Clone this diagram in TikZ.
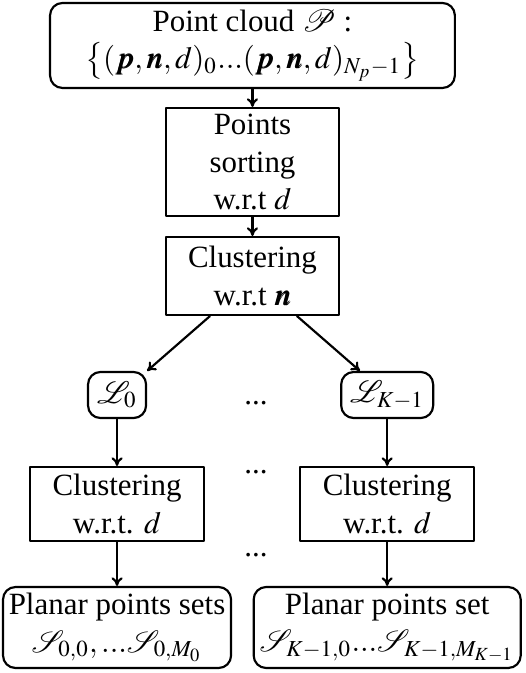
\documentclass[tikz,border=0pt]{standalone}
\usepackage{mathptmx}
\usepackage{amsmath}
\usepackage{bm}
\usepackage{mathrsfs}
\usepackage{fontspec}
\setmainfont{Liberation Serif}
\usetikzlibrary{arrows.meta}
\begin{document}
\begin{tikzpicture}[line join=round, line cap=round, >={To[length=2.8pt,width=3.6pt]}, line width=0.7pt,
		sbox/.style={draw, align=center, inner sep=1pt},
		rbox/.style={sbox, rounded corners=4pt}]
	\useasboundingbox (0,0) rectangle (5.977,7.648);
	% upper chain
	\node[rbox, minimum width=4.6cm, minimum height=0.966cm] (cloud) at (2.869,7.131) {Point cloud $\mathscr{P}$ :\\ $\big\{(\bm{p},\bm{n},d)_0...(\bm{p},\bm{n},d)_{N_p-1}\big\}$};
	\node[sbox, minimum width=1.966cm, minimum height=1.227cm] (sort) at (2.869,5.807) {Points\\ sorting\\ w.r.t $d$};
	\node[sbox, minimum width=1.966cm, minimum height=0.886cm] (clustn) at (2.869,4.511) {Clustering\\ w.r.t $\bm{n}$};
	% two columns
	\node[rbox, minimum width=0.659cm, minimum height=0.523cm] (lz) at (1.330,3.159) {$\mathscr{L}_0$};
	\node[rbox, minimum width=1.045cm, minimum height=0.523cm] (lk) at (4.400,3.159) {$\mathscr{L}_{K-1}$};
	\node[sbox, minimum width=1.977cm, minimum height=0.841cm] (cdz) at (1.330,1.920) {Clustering\\ w.r.t. $d$};
	\node[sbox, minimum width=1.977cm, minimum height=0.841cm] (cdk) at (4.400,1.920) {Clustering\\ w.r.t. $d$};
	\node[rbox, minimum width=2.591cm, minimum height=0.920cm] (setz) at (1.330,0.517) {Planar points sets\\ $\mathscr{S}_{0,0},...\mathscr{S}_{0,M_0}$};
	\node[rbox, minimum width=3.034cm, minimum height=0.920cm] (setk) at (4.400,0.517) {Planar points set\\ $\mathscr{S}_{K-1,0}...\mathscr{S}_{K-1,M_{K-1}}$};
	\node (dotsa) at (2.909,3.068) {...};
	\node (dotsb) at (2.909,2.284) {...};
	\node (dotsc) at (2.909,1.341) {...};
	% arrows
	\draw[->] (cloud) -- (sort);
	\draw[->] (sort) -- (clustn);
	\draw[->] ([xshift=-0.483cm]clustn.south) -- (lz.north east);
	\draw[->] ([xshift=0.506cm]clustn.south) -- ([xshift=-0.31cm]lk.north);
	\draw[->] (lz) -- (cdz);
	\draw[->] (lk) -- (cdk);
	\draw[->] (cdz) -- (setz);
	\draw[->] (cdk) -- (setk);
\end{tikzpicture}
\end{document}
